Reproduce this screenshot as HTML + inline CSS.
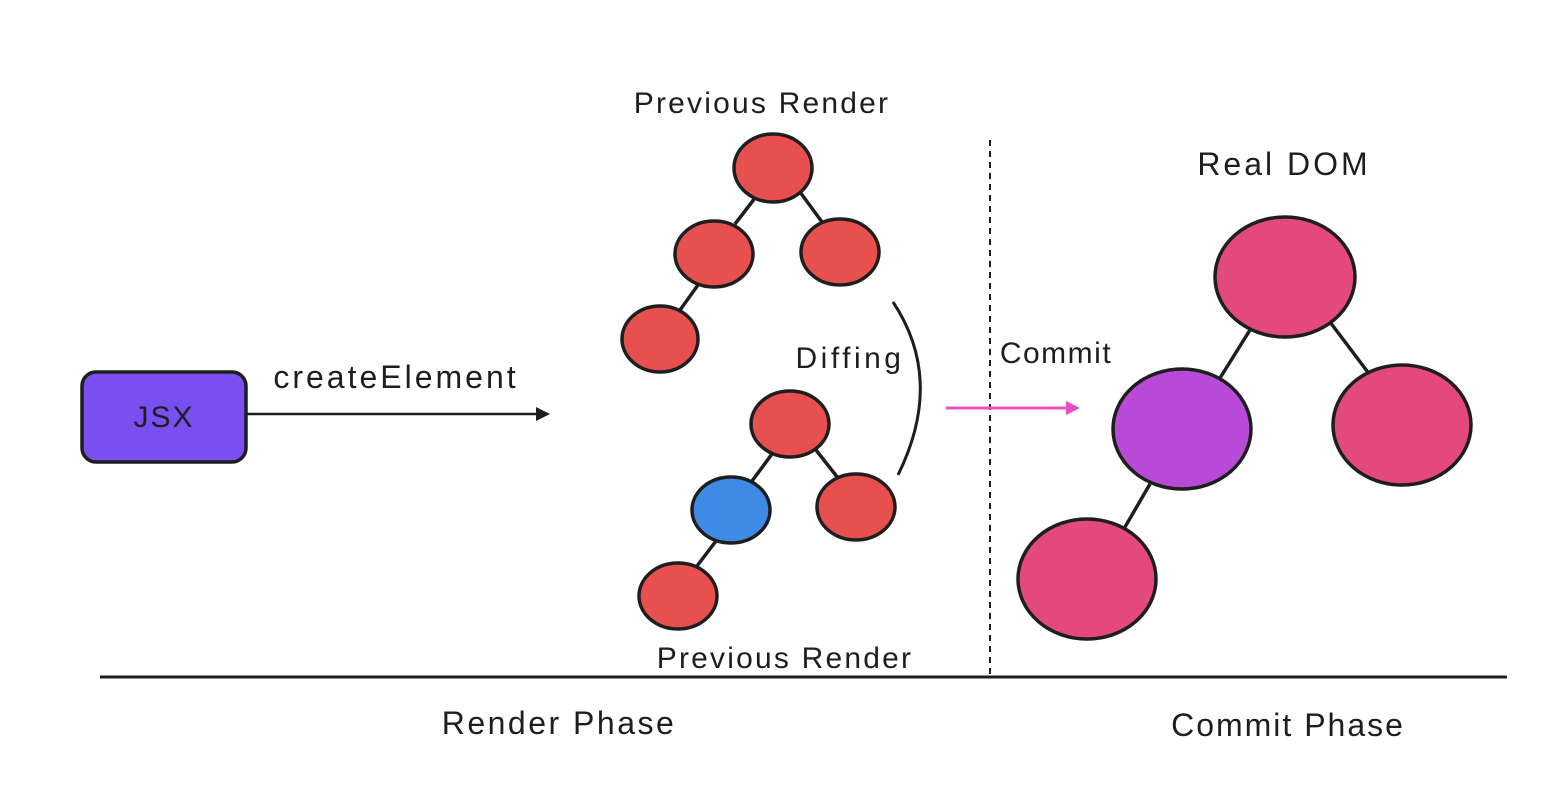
<!DOCTYPE html>
<html><head><meta charset="utf-8"><style>
html,body{margin:0;padding:0;background:#fff;}
svg{display:block}
text{font-family:"Liberation Sans",sans-serif;fill:#1e1e1e}
</style></head><body>
<svg width="1554" height="800" viewBox="0 0 1554 800" xmlns="http://www.w3.org/2000/svg">
<rect width="1554" height="800" fill="#fff"/>
<g stroke="#1e1e1e" stroke-width="3.5" fill="none">
<line x1="755" y1="198" x2="735" y2="224"/>
<line x1="800" y1="192" x2="822" y2="222"/>
<line x1="698" y1="285" x2="680" y2="310"/>
<line x1="772" y1="454" x2="752" y2="481"/>
<line x1="816" y1="450" x2="838" y2="478"/>
<line x1="716" y1="541" x2="697" y2="566"/>
<line x1="1250" y1="330" x2="1220" y2="378"/>
<line x1="1330" y1="322" x2="1370" y2="375"/>
<line x1="1150" y1="484" x2="1125" y2="527"/>
</g>
<g stroke="#1e1e1e" stroke-width="3.5">
<ellipse cx="773" cy="168" rx="39" ry="34" fill="#e85050"/>
<ellipse cx="714" cy="254" rx="39" ry="33" fill="#e85050"/>
<ellipse cx="840" cy="252" rx="39" ry="33" fill="#e85050"/>
<ellipse cx="660" cy="339" rx="38" ry="33" fill="#e85050"/>
<ellipse cx="790" cy="424" rx="39" ry="33" fill="#e85050"/>
<ellipse cx="731" cy="510" rx="39" ry="33" fill="#3d8be4"/>
<ellipse cx="856" cy="507" rx="39" ry="33" fill="#e85050"/>
<ellipse cx="678" cy="596" rx="39" ry="33" fill="#e85050"/>
<ellipse cx="1285" cy="277" rx="70" ry="60" fill="#e4497e"/>
<ellipse cx="1182" cy="429" rx="69" ry="60" fill="#b84ad8"/>
<ellipse cx="1402" cy="425" rx="69" ry="60" fill="#e4497e"/>
<ellipse cx="1087" cy="579" rx="69" ry="60" fill="#e4497e"/>
<rect x="82" y="372" width="164" height="90" rx="14" fill="#7a4ff2"/>
</g>
<path d="M893 302 Q945 380 898 475" stroke="#1e1e1e" stroke-width="3" fill="none"/>
<line x1="990" y1="140" x2="990" y2="675" stroke="#1e1e1e" stroke-width="2" stroke-dasharray="6,5"/>
<line x1="246" y1="414" x2="538" y2="414" stroke="#1e1e1e" stroke-width="2.5"/>
<polygon points="550,414 536,407 536,421" fill="#1e1e1e"/>
<line x1="946" y1="408" x2="1068" y2="408" stroke="#e84fbf" stroke-width="3"/>
<polygon points="1080,408 1066,401 1066,415" fill="#e84fbf"/>
<line x1="100" y1="677" x2="1507" y2="677" stroke="#1e1e1e" stroke-width="3"/>
<text x="164" y="427" font-size="30" text-anchor="middle" letter-spacing="2">JSX</text>
<text x="396" y="388" font-size="32" text-anchor="middle" letter-spacing="3">createElement</text>
<text x="762" y="113" font-size="30" text-anchor="middle" letter-spacing="2.2">Previous Render</text>
<text x="785" y="668" font-size="30" text-anchor="middle" letter-spacing="2.2">Previous Render</text>
<text x="850" y="368" font-size="30" text-anchor="middle" letter-spacing="3.5">Diffing</text>
<text x="1056" y="363" font-size="30" text-anchor="middle" letter-spacing="1.5">Commit</text>
<text x="1284" y="175" font-size="32" text-anchor="middle" letter-spacing="3">Real DOM</text>
<text x="559" y="734" font-size="32" text-anchor="middle" letter-spacing="2.5">Render Phase</text>
<text x="1288" y="736" font-size="32" text-anchor="middle" letter-spacing="2">Commit Phase</text>
</svg>
</body></html>
